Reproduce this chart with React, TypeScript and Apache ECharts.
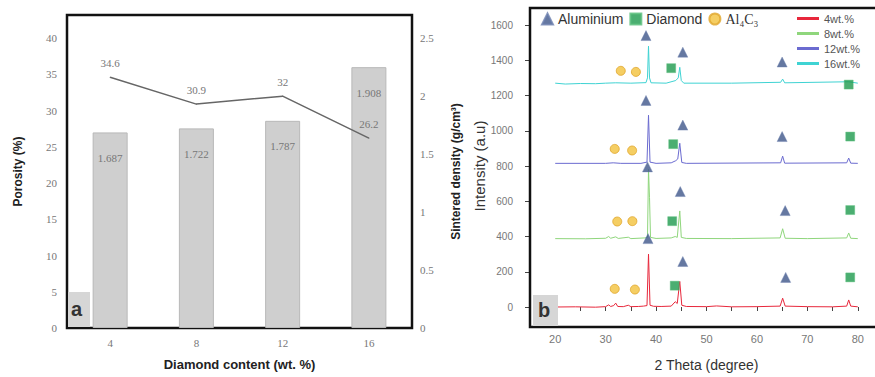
import React, { useEffect, useRef } from "react";
import * as echarts from "echarts";

// ---------- Panel (a) data ----------
const categories = ["4", "8", "12", "16"];
const porosity = [34.6, 30.9, 32, 26.2];
const densityBars = [1.687, 1.722, 1.787, 2.25];
const densityLabels = ["1.687", "1.722", "1.787", "1.908"];

// ---------- Panel (b) data: XRD patterns [2theta, intensity] ----------
const xrd4 = [
  [20, 0], [24, 1], [28, -1], [30, 2], [30.6, 12], [31, 3], [31.6, 8], [32, 22], [32.4, 3],
  [33.5, 2], [34.5, 10], [35, 2], [36.5, 3], [37.5, 5], [38.2, 8], [38.5, 300], [38.8, 10],
  [39.5, 4], [41, 3], [43, 5], [43.8, 30], [44.2, 20], [44.7, 145], [45.1, 10], [46, 3],
  [50, 2], [52, 6], [55, 1], [60, 2], [64.6, 5], [65.1, 50], [65.6, 5], [70, 2], [75, 1],
  [77.8, 5], [78.2, 40], [78.6, 5], [80, 1],
];
const xrd8 = [
  [20, 388], [26, 387], [30, 390], [30.6, 400], [31, 390], [32, 398], [32.5, 389], [34.5, 396],
  [35, 388], [37.8, 392], [38.3, 395], [38.5, 780], [38.7, 620], [38.9, 395], [40, 389],
  [43, 392], [43.8, 400], [44.2, 395], [44.7, 545], [45, 395], [46, 389], [55, 388],
  [64.6, 392], [65.1, 444], [65.6, 390], [70, 388], [77.8, 392], [78.2, 420], [78.6, 390], [80, 388],
];
const xrd12 = [
  [20, 815], [30, 815], [31.5, 818], [33, 815], [37, 815], [38.2, 822], [38.5, 1088], [38.8, 822],
  [40, 815], [43, 818], [43.9, 830], [44.3, 840], [44.7, 929], [45.1, 820], [46, 815],
  [64.7, 818], [65.1, 856], [65.5, 816], [77.8, 818], [78.2, 845], [78.6, 816], [80, 815],
];
const xrd16 = [
  [20, 1270], [22, 1265], [25, 1268], [28, 1267], [30, 1270], [32, 1272], [35, 1270], [38, 1273],
  [38.3, 1300], [38.5, 1480], [38.7, 1300], [39, 1272], [42, 1270], [43.9, 1285], [44.4, 1300],
  [44.7, 1360], [45, 1285], [45.5, 1270], [55, 1270], [64.7, 1275], [65.1, 1293], [65.5, 1272],
  [78.2, 1278], [80, 1270],
];
const aluminiumMarks = [
  [38.0, 1540], [45.3, 1446], [65.0, 1390],
  [38.0, 1172], [45.3, 1032], [65.0, 967],
  [38.3, 795], [44.8, 655], [65.6, 547],
  [38.4, 388], [45.3, 258], [65.7, 168],
];
const diamondMarks = [
  [43.0, 1355], [78.2, 1262],
  [43.4, 924], [78.5, 967],
  [43.2, 487], [78.5, 550],
  [43.7, 121], [78.5, 168],
];
const al4c3Marks = [
  [33.0, 1340], [36.0, 1334],
  [31.8, 897], [35.25, 888],
  [32.3, 485], [35.3, 487],
  [31.8, 103], [35.8, 99],
];
const lineNames = ["4wt.%", "8wt.%", "12wt.%", "16wt.%"];
const markNames = ["Aluminium", "Diamond", "Al\u2084C\u2083"];

const SERIF = "Liberation Serif";
const SANS = "Liberation Sans";

export default function App() {
  const ref = useRef<HTMLDivElement>(null);
  useEffect(() => {
    if (!ref.current) return;
    const chart = echarts.init(ref.current, undefined, { renderer: "svg" });
    const lineColors = ["#e8283c", "#8fd67c", "#6b6bd0", "#3fd3d3"];
    const xrdData = [xrd4, xrd8, xrd12, xrd16];
    chart.setOption({
      animation: false,
      backgroundColor: "#ffffff",
      grid: [
        { left: 67, top: 15, width: 345, height: 313, show: true, borderColor: "#111", borderWidth: 2.5, backgroundColor: "transparent" },
        { left: 530, top: 25, height: 286, width: 353, show: false },
      ],
      xAxis: [
        {
          type: "category", gridIndex: 0, data: categories,
          axisLine: { show: false }, axisTick: { show: false },
          axisLabel: { margin: 9, color: "#777", fontFamily: SERIF, fontSize: 11 },
          name: "Diamond content (wt. %)", nameLocation: "middle", nameGap: 30,
          nameTextStyle: { color: "#222", fontFamily: SANS, fontWeight: "bold", fontSize: 13 },
        },
        {
          type: "value", gridIndex: 1, min: 15, max: 85, interval: 5, offset: 16,
          splitLine: { show: false },
          axisLine: { show: false },
          axisTick: { show: true, length: 4, lineStyle: { color: "#444" } },
          axisLabel: {
            margin: 10, color: "#777", fontFamily: SANS, fontSize: 11,
            formatter: (v: number) => (v % 10 === 0 && v >= 20 && v <= 80 ? String(v) : ""),
          },
          name: "2 Theta (degree)", nameLocation: "middle", nameGap: 35,
          nameTextStyle: { color: "#333", fontFamily: SANS, fontSize: 14 },
        },
      ],
      yAxis: [
        {
          type: "value", gridIndex: 0, min: 0, max: 43.2, interval: 5,
          splitLine: { show: false }, axisLine: { show: false }, axisTick: { show: false },
          axisLabel: {
            margin: 10, color: "#777", fontFamily: SERIF, fontSize: 11,
            formatter: (v: number) => (v <= 40 ? String(v) : ""),
          },
          name: "Porosity (%)", nameLocation: "middle", nameGap: 43, nameRotate: 90,
          nameTextStyle: { color: "#222", fontFamily: SANS, fontWeight: "bold", fontSize: 12 },
        },
        {
          type: "value", gridIndex: 0, position: "right", min: 0, max: 2.7, interval: 0.5,
          splitLine: { show: false }, axisLine: { show: false }, axisTick: { show: false },
          axisLabel: {
            margin: 8, color: "#777", fontFamily: SERIF, fontSize: 11,
            formatter: (v: number) => (v <= 2.5 ? String(v) : ""),
          },
          name: "Sintered density (g/cm\u00b3)", nameLocation: "middle", nameGap: 38, nameRotate: 90,
          nameTextStyle: { color: "#222", fontFamily: SANS, fontWeight: "bold", fontSize: 12 },
        },
        {
          type: "value", gridIndex: 1, min: 0, max: 1600, interval: 200,
          splitLine: { show: false }, axisLine: { show: false },
          axisTick: { show: true, length: 5, lineStyle: { color: "#444" } },
          axisLabel: { margin: 17, color: "#777", fontFamily: SANS, fontSize: 10, formatter: (v: number) => String(v) },
          name: "Intensity (a.u)", nameLocation: "middle", nameGap: 42, nameRotate: 90,
          nameTextStyle: { color: "#333", fontFamily: SANS, fontSize: 15 },
        },
      ],
      legend: [
        {
          data: markNames.map((n, i) => ({
            name: n,
            icon: ["triangle", "rect", "circle"][i],
            textStyle: i === 2 ? { fontFamily: SERIF, fontSize: 14, color: "#333" } : undefined,
          })),
          left: 541, top: 12, padding: 0, itemGap: 6, itemWidth: 11, itemHeight: 11,
          textStyle: { fontFamily: SANS, fontSize: 14, color: "#333" },
        },
        {
          data: lineNames, orient: "vertical", left: 797, top: 13, padding: 0, itemGap: 4,
          itemWidth: 22, itemHeight: 3, icon: "rect",
          textStyle: { fontFamily: SANS, fontSize: 11, color: "#555" },
        },
      ],
      series: [
        {
          type: "bar", xAxisIndex: 0, yAxisIndex: 1, data: densityBars, barWidth: 35,
          itemStyle: { color: "#cfcfcf", borderColor: "#b8b8b8", borderWidth: 1 },
          label: {
            show: true, position: "insideTop", distance: 20, color: "#777",
            fontFamily: SERIF, fontSize: 11,
            formatter: (p: any) => densityLabels[p.dataIndex],
          },
          z: 2,
        },
        {
          type: "line", xAxisIndex: 0, yAxisIndex: 0, data: porosity,
          symbol: "circle", symbolSize: 1,
          lineStyle: { color: "#666", width: 1.5 }, itemStyle: { color: "#666" },
          label: { show: true, position: "top", distance: 8, color: "#777", fontFamily: SERIF, fontSize: 11 },
          z: 3,
        },
        ...xrdData.map((d, i) => ({
          type: "line", name: lineNames[i], xAxisIndex: 1, yAxisIndex: 2, data: d, clip: false,
          symbol: "none", lineStyle: { color: lineColors[i], width: 1 }, itemStyle: { color: lineColors[i] },
          z: 3,
        })),
        {
          type: "scatter", name: markNames[0], xAxisIndex: 1, yAxisIndex: 2, data: aluminiumMarks, clip: false,
          symbol: "triangle", symbolSize: 10, itemStyle: { color: "#3e568a", borderColor: "#6c7fae", borderWidth: 0.5 }, z: 5,
        },
        {
          type: "scatter", name: markNames[1], xAxisIndex: 1, yAxisIndex: 2, data: diamondMarks, clip: false,
          symbol: "rect", symbolSize: 9, itemStyle: { color: "#1e9a4e", borderColor: "#5cc07e", borderWidth: 0.5 }, z: 5,
        },
        {
          type: "scatter", name: markNames[2], xAxisIndex: 1, yAxisIndex: 2, data: al4c3Marks, clip: false,
          symbol: "circle", symbolSize: 9, itemStyle: { color: "#f2c23c", borderColor: "#e0a52a", borderWidth: 1 }, z: 5,
        },
      ],
      graphic: [
        { type: "rect", shape: { x: 530, y: 8, width: 353, height: 319 }, style: { fill: "none", stroke: "#111", lineWidth: 2.5 }, z: 9 },
        { type: "rect", left: 68, top: 292, shape: { width: 22, height: 35 }, style: { fill: "#d6d6d6" }, z: 10 },
        { type: "text", left: 71, top: 299, style: { text: "a", fontSize: 20, fontWeight: "bold", fontFamily: SANS, fill: "#333" }, z: 11 },
        { type: "rect", left: 533, top: 295, shape: { width: 25, height: 31 }, style: { fill: "#d6d6d6" }, z: 10 },
        { type: "text", left: 538, top: 300, style: { text: "b", fontSize: 20, fontWeight: "bold", fontFamily: SANS, fill: "#333" }, z: 11 },
      ],
    });
    return () => chart.dispose();
  }, []);
  return <div ref={ref} style={{ position: "fixed", left: 0, top: 0, width: 900, height: 377 }} />;
}
